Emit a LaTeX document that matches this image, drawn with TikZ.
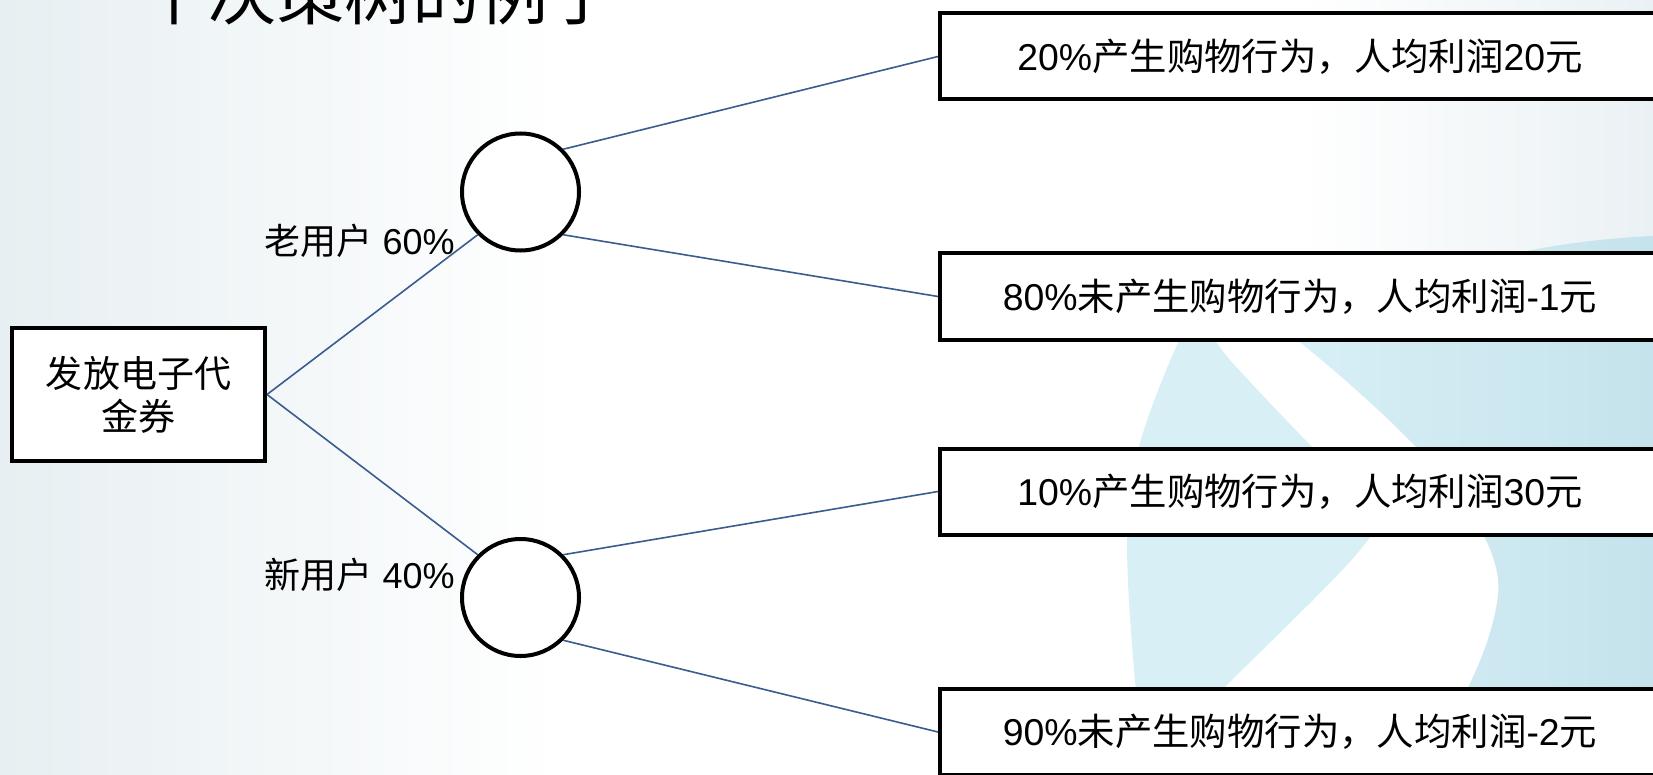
\documentclass[tikz,border=0pt]{standalone}
\usepackage{fontspec}
\setmainfont{Liberation Sans}
\newfontfamily\cjk{Noto Sans CJK SC}
\newcommand{\zh}[1]{{\cjk #1}}
\definecolor{lineblue}{RGB}{58,92,142}
\definecolor{bgl}{RGB}{231,239,242}
\definecolor{bgr}{RGB}{234,241,244}
\definecolor{blueA}{RGB}{216,239,246}
\definecolor{blueB}{RGB}{197,227,236}
\begin{document}
\begin{tikzpicture}[x=0.5pt,y=-0.5pt,
  outcome/.style={draw=black, line width=2pt, fill=white, minimum width=360pt, minimum height=43pt, inner sep=0pt, font=\fontsize{18.7pt}{22pt}\selectfont},
  chance/.style={circle, draw=black, line width=2pt, fill=white, minimum size=58.5pt, inner sep=0pt},
  root/.style={draw=black, line width=2pt, fill=white, minimum width=126.5pt, minimum height=66.5pt, inner sep=0pt, align=center, font=\cjk\fontsize{18.5pt}{21.5pt}\selectfont},
  edge/.style={draw=lineblue, line width=0.8pt},
  lbl/.style={inner sep=0pt, anchor=east, font=\fontsize{18pt}{21pt}\selectfont}]
\clip (0,0) rectangle (1653,775);
% background
\fill[white] (0,0) rectangle (1653,775);
\shade[left color=bgl, right color=white] (0,0) rectangle (560,775);
\shade[left color=white, right color=bgr] (1300,0) rectangle (1653,252);
\shade[left color=blueA, right color=blueB] (1653,236) .. controls (1560,240) and (1420,262) .. (1295,338) .. controls (1420,440) and (1505,530) .. (1498,595) .. controls (1492,650) and (1455,720) .. (1415,775) -- (1653,775) -- cycle;
\fill[blueA] plot[smooth cycle, tension=0.6] coordinates {(1198,318) (1230,360) (1315,450) (1372,505) (1360,550) (1223,689) (1150,765) (1136,690) (1127,540) (1138,450) (1177,345)};
% title (cropped)
\node[anchor=base west, inner sep=0pt, font=\cjk\fontsize{34pt}{40pt}\selectfont] (title) at (72,20) {一个决策树的例子};
% nodes
\node[root] (root) at (138.5,394.5) {发放电子代\\金券};
\node[chance] (c1) at (520.5,192) {};
\node[chance] (c2) at (520.5,597.5) {};
\node[outcome] (b1) at (1300,56.5) {20\%\zh{产生购物行为，人均利润}20\zh{元}};
\node[outcome] (b2) at (1300,296.5) {80\%\zh{未产生购物行为，人均利润}-1\zh{元}};
\node[outcome] (b3) at (1300,491.5) {10\%\zh{产生购物行为，人均利润}30\zh{元}};
\node[outcome] (b4) at (1300,732) {90\%\zh{未产生购物行为，人均利润}-2\zh{元}};
\node[lbl] (l1) at (455,241) {\zh{老用户} 60\%};
\node[lbl] (l2) at (455,574.5) {\zh{新用户} 40\%};
% connectors
\draw[edge] (root.east) -- (c1.south west);
\draw[edge] (root.east) -- (c2.north west);
\draw[edge] (c1.north east) -- (b1.west);
\draw[edge] (c1.south east) -- (b2.west);
\draw[edge] (c2.north east) -- (b3.west);
\draw[edge] (c2.south east) -- (b4.west);
\end{tikzpicture}
\end{document}
